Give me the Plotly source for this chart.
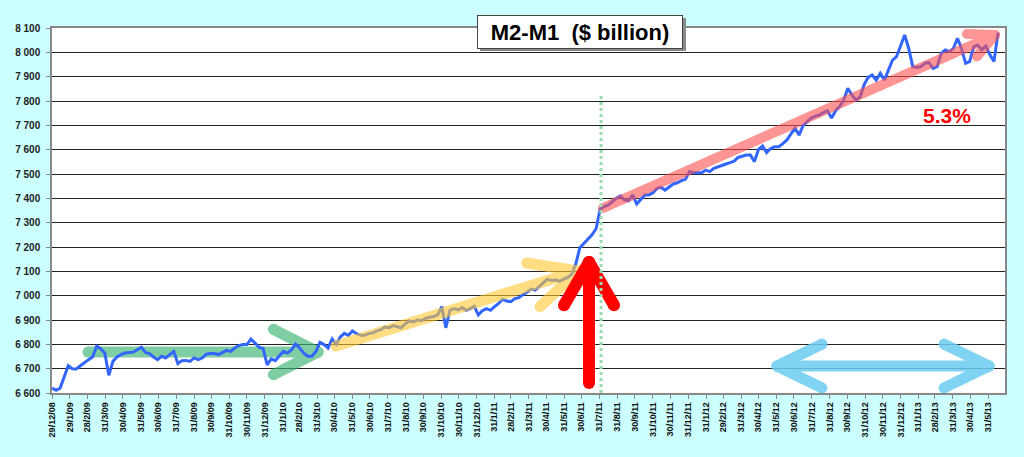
import pandas as pd
import math
import plotly.graph_objects as go

# ---------------- data ----------------
start_date = "2008-12-29"   # first weekly observation (Mondays)
m2_minus_m1 = [
    6620, 6611, 6620, 6668, 6712, 6700, 6699, 6712, 6726, 6737,
    6748, 6792, 6782, 6764, 6673, 6730, 6748, 6758, 6764, 6767,
    6768, 6778, 6788, 6767, 6762, 6748, 6737, 6751, 6744, 6758,
    6771, 6721, 6733, 6734, 6730, 6744, 6737, 6744, 6760, 6762,
    6762, 6758, 6768, 6775, 6771, 6785, 6795, 6799, 6799, 6822,
    6805, 6788, 6782, 6716, 6740, 6733, 6753, 6771, 6764, 6778,
    6801, 6785, 6764, 6751, 6751, 6771, 6808, 6799, 6785, 6822,
    6800, 6830, 6845, 6837, 6855, 6844, 6837, 6837, 6844, 6847,
    6855, 6860, 6871, 6868, 6877, 6874, 6868, 6885, 6896, 6892,
    6900, 6897, 6907, 6911, 6914, 6921, 6955, 6868, 6940, 6947,
    6942, 6951, 6940, 6947, 6956, 6921, 6938, 6947, 6940, 6955,
    6968, 6985, 6978, 6975, 6988, 6992, 7005, 7014, 7027, 7023,
    7037, 7055, 7068, 7062, 7064, 7060, 7068, 7075, 7088, 7130,
    7197, 7215, 7232, 7250, 7275, 7355, 7366, 7373, 7386, 7400,
    7410, 7393, 7390, 7414, 7377, 7396, 7414, 7414, 7423, 7441,
    7445, 7434, 7445, 7459, 7464, 7473, 7478, 7510, 7505, 7505,
    7505, 7516, 7510, 7523, 7530, 7537, 7541, 7547, 7553, 7568,
    7574, 7578, 7578, 7551, 7601, 7615, 7588, 7605, 7612, 7612,
    7625, 7640, 7665, 7688, 7660, 7700, 7715, 7730, 7738, 7742,
    7752, 7760, 7730, 7760, 7778, 7804, 7852, 7825, 7804, 7815,
    7866, 7897, 7907, 7886, 7914, 7886, 7927, 7968, 7982, 8030,
    8071, 8016, 7941, 7938, 7941, 7955, 7958, 7934, 7941, 7996,
    8010, 8003, 8016, 8058, 8016, 7955, 7962, 8023, 8030, 8010,
    8026, 7990, 7962, 8081,
]
x_tick_labels = [
    "29/12/08", "29/1/09", "28/2/09", "31/3/09", "30/4/09", "31/5/09", "30/6/09",
    "31/7/09", "31/8/09", "30/9/09", "31/10/09", "30/11/09", "31/12/09",
    "31/1/10", "28/2/10", "31/3/10", "30/4/10", "31/5/10", "30/6/10", "31/7/10",
    "31/8/10", "30/9/10", "31/10/10", "30/11/10", "31/12/10",
    "31/1/11", "28/2/11", "31/3/11", "30/4/11", "31/5/11", "30/6/11", "31/7/11",
    "31/8/11", "30/9/11", "31/10/11", "30/11/11", "31/12/11",
    "31/1/12", "29/2/12", "31/3/12", "30/4/12", "31/5/12", "30/6/12", "31/7/12",
    "31/8/12", "30/9/12", "31/10/12", "30/11/12", "31/12/12",
    "31/1/13", "28/2/13", "31/3/13", "30/4/13", "31/5/13",
]
y_tick_values = [6600, 6700, 6800, 6900, 7000, 7100, 7200, 7300, 7400,
                 7500, 7600, 7700, 7800, 7900, 8000, 8100]
title_text = "M2-M1\u00a0 ($ billion)"
growth_label = "5.3%"

# ---------------- derived ----------------
dates = pd.date_range(start_date, periods=len(m2_minus_m1), freq="7D")
tick_dates = [pd.to_datetime(t, format="%d/%m/%y") for t in x_tick_labels]
y_tick_text = [f"{v:,}".replace(",", " ") for v in y_tick_values]

X_RANGE = [pd.Timestamp("2008-12-29"), pd.Timestamp("2013-06-29")]
Y_RANGE = [6600, 8100]

# ---------------- geometry helpers ----------------
W, H = 1024, 457
L, R, T, B = 52, 19, 28, 64
PW, PH = W - L - R, H - T - B
BG = "#CCFFFF"


def px(x, y):
    """pixel -> paper"""
    return (x - L) / PW, (H - B - y) / PH


def to_data(x, y):
    fx, fy = px(x, y)
    t = X_RANGE[0] + (X_RANGE[1] - X_RANGE[0]) * fx
    v = Y_RANGE[0] + (Y_RANGE[1] - Y_RANGE[0]) * fy
    return t, v


def wings(tail, tip, length, ang_deg):
    dx, dy = tail[0] - tip[0], tail[1] - tip[1]
    base = math.atan2(dy, dx)
    pts = []
    for s in (1, -1):
        a = base + s * math.radians(ang_deg)
        pts.append((tip[0] + length * math.cos(a), tip[1] + length * math.sin(a)))
    return pts


def arrow_trace(tail, tip, color, width, opacity, head_len, head_ang, double=False):
    segs = [[tail, tip]]
    for w in wings(tail, tip, head_len, head_ang):
        segs.append([tip, w])
    if double:
        for w in wings(tip, tail, head_len, head_ang):
            segs.append([tail, w])
    xs, ys = [], []
    for seg in segs:
        for p in seg:
            t, v = to_data(*p)
            xs.append(t)
            ys.append(v)
        xs.append(None)
        ys.append(None)
    return go.Scatter(
        x=xs, y=ys, mode="lines+markers", opacity=opacity,
        line=dict(color=color, width=width, simplify=False),
        marker=dict(color=color, size=width, line=dict(width=0)),
        showlegend=False, hoverinfo="skip", connectgaps=False,
    )


fig = go.Figure()
# green flat arrow (below the data line)
fig.add_trace(arrow_trace((88, 352), (318, 352), "#3CB371", 11, 0.65, 50, 27))
# data line
fig.add_trace(go.Scatter(
    x=dates, y=m2_minus_m1, mode="lines",
    line=dict(color="#3366FF", width=3),
    showlegend=False, hoverinfo="x+y",
))
# yellow rising arrow
fig.add_trace(arrow_trace((336, 346), (578, 271), "#FFC832", 11, 0.6, 52, 26))
# pink trend arrow
fig.add_trace(arrow_trace((603, 208), (995, 35), "#FF5050", 10, 0.6, 28, 26))
# light-blue double arrow
fig.add_trace(arrow_trace((777, 366), (989, 366), "#6CCCF2", 11, 0.85, 50, 26, double=True))
# red vertical arrow
fig.add_trace(arrow_trace((589, 383), (589, 262), "#FF0000", 12, 1.0, 50, 30))

shapes = []
# green dotted vertical line
x0, y0 = px(601, 393)
x1, y1 = px(601, 93)
shapes.append(dict(type="line", xref="paper", yref="paper", x0=x0, x1=x1, y0=y0, y1=y1,
                   line=dict(color="#9ADBB0", width=3, dash="dot"), layer="above"))
# title box shadow
sx0, sy0 = px(480, 51)
sx1, sy1 = px(686, 18)
shapes.append(dict(type="rect", xref="paper", yref="paper", x0=sx0, x1=sx1, y0=sy0, y1=sy1,
                   fillcolor="#8A8A8A", line=dict(width=0), layer="above"))

tx, ty = px(580, 31.5)
gx, gy = px(947, 115)
annotations = [
    dict(xref="paper", yref="paper", x=tx, y=ty, text=f"<b>{title_text}</b>", showarrow=False,
         font=dict(family="Arial, Liberation Sans, sans-serif", size=22, color="#000000"),
         bgcolor="#FFFFFF", bordercolor="#444444", borderwidth=1, borderpad=2,
         width=200, height=28, xanchor="center", yanchor="middle"),
    dict(xref="paper", yref="paper", x=gx, y=gy, text=f"<b>{growth_label}</b>", showarrow=False,
         font=dict(family="Arial, Liberation Sans, sans-serif", size=21, color="#FF0000"),
         xanchor="center", yanchor="middle"),
]

fig.update_layout(
    width=W, height=H,
    margin=dict(l=L, r=R, t=T, b=B, autoexpand=False),
    paper_bgcolor=BG, plot_bgcolor="#FFFFFF",
    font=dict(family="Arial, Liberation Sans, sans-serif", color="#111111"),
    shapes=shapes, annotations=annotations,
    xaxis=dict(
        type="date", range=X_RANGE,
        tickvals=tick_dates, ticktext=x_tick_labels, tickangle=-90,
        tickfont=dict(size=9, weight="bold", color="#111111"),
        showgrid=False, ticks="outside", ticklen=4, tickcolor="#888888",
        showline=True, linecolor="#888888", linewidth=1.5, mirror=True, zeroline=False,
    ),
    yaxis=dict(
        range=Y_RANGE, tickvals=y_tick_values, ticktext=y_tick_text,
        tickfont=dict(size=10, weight="bold", color="#222222"),
        showgrid=True, gridcolor="#222222", gridwidth=1,
        ticks="outside", ticklen=4, tickcolor="#888888", ticklabelstandoff=4,
        showline=True, linecolor="#888888", linewidth=1.5, mirror=True, zeroline=False,
    ),
)

fig.write_html(
    "out.html",
    config={"displayModeBar": False},
    post_script=f"document.body.style.margin='0';document.body.style.background='{BG}';",
)
